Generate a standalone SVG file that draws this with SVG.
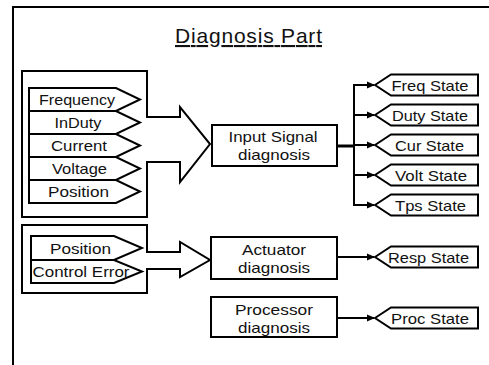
<svg xmlns="http://www.w3.org/2000/svg" width="489" height="365" viewBox="0 0 489 365">
  <style>
    .shape { fill: #fff; stroke: #000; stroke-width: 2; stroke-linejoin: miter; }
    .wire { fill: none; stroke: #000; stroke-width: 2; }
    .trunk { fill: none; stroke: #000; stroke-width: 3; }
    text { font-family: "Liberation Sans", Arial, sans-serif; font-size: 15px; fill: #111; text-anchor: middle; }
    .title { font-size: 21px; text-decoration: underline; }
  </style>
  <defs>
    <marker id="head" viewBox="0 0 8 8" refX="7" refY="4" markerWidth="8" markerHeight="8" markerUnits="userSpaceOnUse" orient="auto">
      <path d="M0,0.5 L8,4 L0,7.5 Z" fill="#000"/>
    </marker>
  </defs>
  <rect width="489" height="365" fill="#fff"/>

  <!-- outer frame, running off the right and bottom edges -->
  <rect x="13" y="7" width="500" height="400" fill="none" stroke="#000" stroke-width="2"/>
  <text class="title" x="248.5" y="43" textLength="147" lengthAdjust="spacing">Diagnosis Part</text>

  <!-- input signals bundled into one block arrow -->
  <g id="input-signals">
    <path class="shape" d="M22,71 H147 V117 H180 V107 L210,144 L180,182 V162 H147 V217 H22 Z"/>
    <path class="shape" d="M29,88 H116 L140,99.5 L116,111 H29 Z"/>
    <path class="shape" d="M29,111 H116 L140,122.5 L116,134 H29 Z"/>
    <path class="shape" d="M29,134 H116 L140,145.5 L116,157 H29 Z"/>
    <path class="shape" d="M29,157 H116 L140,168.5 L116,180 H29 Z"/>
    <path class="shape" d="M29,180 H116 L140,191.5 L116,203 H29 Z"/>
    <text x="77" y="105" textLength="76" lengthAdjust="spacingAndGlyphs">Frequency</text>
    <text x="78" y="128" textLength="47" lengthAdjust="spacingAndGlyphs">InDuty</text>
    <text x="79" y="151" textLength="56" lengthAdjust="spacingAndGlyphs">Current</text>
    <text x="79.5" y="174" textLength="55" lengthAdjust="spacingAndGlyphs">Voltage</text>
    <text x="78.5" y="197" textLength="61" lengthAdjust="spacingAndGlyphs">Position</text>
  </g>

  <!-- actuator inputs bundled into one block arrow -->
  <g id="actuator-signals">
    <path class="shape" d="M22,225 H147 V252 H180 V242 L210,260 L180,277 V269 H147 V293 H22 Z"/>
    <path class="shape" d="M31,236 H114 L142,248 L114,260 H31 Z"/>
    <path class="shape" d="M31,260 H114 L142,271.5 L114,283 H31 Z"/>
    <text x="80.5" y="254" textLength="61" lengthAdjust="spacingAndGlyphs">Position</text>
    <text x="81" y="277" textLength="97" lengthAdjust="spacingAndGlyphs">Control Error</text>
  </g>

  <g id="input-signal-diagnosis">
    <rect class="shape" x="212" y="125" width="125" height="41"/>
    <text x="273" y="142" textLength="89" lengthAdjust="spacingAndGlyphs">Input Signal</text>
    <text x="274" y="160" textLength="72" lengthAdjust="spacingAndGlyphs">diagnosis</text>
  </g>

  <g id="actuator-diagnosis">
    <rect class="shape" x="211" y="237" width="126" height="42"/>
    <text x="274" y="255" textLength="64" lengthAdjust="spacingAndGlyphs">Actuator</text>
    <text x="274" y="273" textLength="72" lengthAdjust="spacingAndGlyphs">diagnosis</text>
  </g>

  <g id="processor-diagnosis">
    <rect class="shape" x="211" y="297" width="126" height="40"/>
    <text x="274" y="315" textLength="78" lengthAdjust="spacingAndGlyphs">Processor</text>
    <text x="274" y="333" textLength="72" lengthAdjust="spacingAndGlyphs">diagnosis</text>
  </g>

  <!-- state outputs -->
  <g id="freq-state">
    <path class="shape" d="M375,85 L391,74.5 H478 V95.5 H391 Z"/>
    <text x="430" y="91" textLength="77" lengthAdjust="spacingAndGlyphs">Freq State</text>
  </g>
  <g id="duty-state">
    <path class="shape" d="M375,115 L391,104.5 H478 V125.5 H391 Z"/>
    <text x="430" y="121" textLength="76" lengthAdjust="spacingAndGlyphs">Duty State</text>
  </g>
  <g id="cur-state">
    <path class="shape" d="M375,145 L391,134.5 H478 V155.5 H391 Z"/>
    <text x="429.5" y="151" textLength="69" lengthAdjust="spacingAndGlyphs">Cur State</text>
  </g>
  <g id="volt-state">
    <path class="shape" d="M375,175 L391,164.5 H478 V185.5 H391 Z"/>
    <text x="431" y="181" textLength="72" lengthAdjust="spacingAndGlyphs">Volt State</text>
  </g>
  <g id="tps-state">
    <path class="shape" d="M375,205 L391,194.5 H478 V215.5 H391 Z"/>
    <text x="430.5" y="211" textLength="71" lengthAdjust="spacingAndGlyphs">Tps State</text>
  </g>
  <g id="resp-state">
    <path class="shape" d="M375,257 L391,246.5 H478 V267.5 H391 Z"/>
    <text x="428.5" y="263" textLength="81" lengthAdjust="spacingAndGlyphs">Resp State</text>
  </g>
  <g id="proc-state">
    <path class="shape" d="M375,318 L391,307.5 H478 V328.5 H391 Z"/>
    <text x="430" y="324" textLength="78" lengthAdjust="spacingAndGlyphs">Proc State</text>
  </g>

  <!-- connectors -->
  <g id="connectors">
    <path class="trunk" d="M337,146 H355"/>
    <path class="wire" d="M354,84 V206"/>
    <path class="wire" d="M353,85 H374" marker-end="url(#head)"/>
    <path class="wire" d="M353,115 H374" marker-end="url(#head)"/>
    <path class="wire" d="M353,145 H374" marker-end="url(#head)"/>
    <path class="wire" d="M353,175 H374" marker-end="url(#head)"/>
    <path class="wire" d="M353,205 H374" marker-end="url(#head)"/>
    <path class="wire" d="M337,257 H374" marker-end="url(#head)"/>
    <path class="wire" d="M337,318 H374" marker-end="url(#head)"/>
  </g>
</svg>
